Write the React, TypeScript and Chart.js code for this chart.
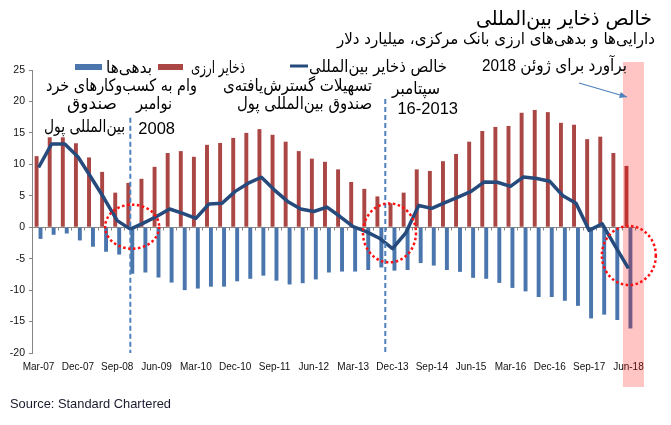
import React, { useEffect, useRef } from "react";
import { Chart, registerables } from "chart.js";
Chart.register(...registerables);

// ---- data ----
const quarters = [
  "Mar-07","Jun-07","Sep-07","Dec-07",
  "Mar-08","Jun-08","Sep-08","Dec-08",
  "Mar-09","Jun-09","Sep-09","Dec-09",
  "Mar-10","Jun-10","Sep-10","Dec-10",
  "Mar-11","Jun-11","Sep-11","Dec-11",
  "Mar-12","Jun-12","Sep-12","Dec-12",
  "Mar-13","Jun-13","Sep-13","Dec-13",
  "Mar-14","Jun-14","Sep-14","Dec-14",
  "Mar-15","Jun-15","Sep-15","Dec-15",
  "Mar-16","Jun-16","Sep-16","Dec-16",
  "Mar-17","Jun-17","Sep-17","Dec-17",
  "Mar-18","Jun-18",
];

const liabilities = [
  -1.85, -1.2, -1.0, -2.1, -3.1, -3.9, -4.35, -7.4, -7.2, -8.0,
  -8.8, -10.0, -9.75, -9.45, -9.45, -8.6, -8.2, -7.7, -8.5, -9.1,
  -8.9, -8.3, -7.2, -7.05, -7.05, -6.8, -6.4, -6.9, -6.8, -5.7,
  -6.1, -6.8, -7.1, -8.05, -8.2, -8.85, -9.65, -10.2, -11.1, -11.1,
  -11.7, -12.5, -14.5, -13.9, -14.75, -16.1,
];

const fxReserves = [
  11.3, 14.3, 14.3, 13.35, 11.1, 8.8, 5.5, 7.05, 7.7, 9.6,
  11.8, 12.1, 11.2, 13.1, 13.4, 14.2, 15.0, 15.6, 14.7, 13.6,
  12.1, 10.9, 10.4, 9.2, 7.2, 6.1, 4.9, 3.8, 5.5, 9.2,
  8.95, 10.5, 11.65, 13.6, 15.3, 15.95, 16.1, 18.2, 18.65, 18.3,
  16.6, 16.3, 14.0, 14.4, 11.8, 9.75,
];

const netReserves = [
  9.5, 13.25, 13.25, 11.2, 7.95, 4.6, 1.05, -0.3, 0.65, 1.7,
  2.9, 2.2, 1.4, 3.7, 3.8, 5.7, 7.0, 7.95, 5.9, 4.1,
  2.9, 2.5, 3.2, 1.7, 0.1, -0.7, -1.75, -3.4, -0.95, 3.45,
  3.0, 3.9, 4.8, 5.7, 7.2, 7.15, 6.5, 8.0, 7.75, 7.3,
  5.0, 3.8, -0.5, 0.55, -3.05, -6.55,
];

const yTicks = { min: -20, max: 25, step: 5 };

const seriesNames = {
  liabilities: "بدهی‌ها",
  fx: "ذخایر ارزی",
  net: "خالص ذخایر بین‌المللی",
};

const titleText = "خالص ذخایر بین‌المللی";
const subtitleText = "دارایی‌ها و بدهی‌های ارزی بانک مرکزی، میلیارد دلار";
const sourceText = "Source: Standard Chartered";

// event markers (category index positions)
const eventLines = [
  { at: 7, top: 17.4 },
  { at: 26.45, top: 20.4 },
];
const circles = [
  { at: 7.14, val: 0.08, rx: 27, ry: 22 },
  { at: 26.77, val: -0.9, rx: 26.5, ry: 29.5 },
  { at: 45.03, val: -4.5, rx: 27, ry: 29.5 },
];

const BLUE = "#4a76ad";
const RED = "#aa4643";
const NAVY = "#264a7c";
const AXIS = "#868686";
const PERSIAN = "'DejaVu Sans', 'Noto Sans', sans-serif";
const MIXED = "'Liberation Sans', 'DejaVu Sans', sans-serif";
const TICKFONT = "'Liberation Sans', Arial, sans-serif";

type Txt = { t: string; x: number; y: number; size: number; w?: number; font?: string; dir?: "rtl" | "ltr" };

const texts: Txt[] = [
  { t: titleText, x: 652, y: 25, size: 20, w: 176 },
  { t: subtitleText, x: 655, y: 44, size: 16, w: 318 },
  { t: "برآورد برای ژوئن 2018", x: 627, y: 71, size: 17, w: 145, font: MIXED },
  { t: "وام به کسب‌وکارهای خرد", x: 197, y: 91, size: 17, w: 151 },
  { t: "صندوق", x: 117, y: 109, size: 17, w: 50 },
  { t: "بین‌المللی پول", x: 125, y: 132, size: 17, w: 81 },
  { t: "نوامبر", x: 172, y: 109, size: 17, w: 36 },
  { t: "2008", x: 175, y: 133.5, size: 16.5, font: MIXED, dir: "ltr" },
  { t: "تسهیلات گسترش‌یافته‌ی", x: 372, y: 91, size: 17, w: 149 },
  { t: "صندوق بین‌المللی پول", x: 372, y: 109, size: 17, w: 135 },
  { t: "سپتامبر", x: 440, y: 94, size: 17, w: 48 },
  { t: "16-2013", x: 458, y: 114, size: 16.5, font: MIXED, dir: "ltr" },
  // legend texts
  { t: seriesNames.liabilities, x: 152, y: 73, size: 16.5, w: 46 },
  { t: seriesNames.fx, x: 245, y: 73, size: 16.5, w: 54 },
  { t: seriesNames.net, x: 447, y: 72, size: 16.5, w: 138 },
];

const overlayPlugin = {
  id: "overlay",
  beforeDatasetDraw(chart: any, args: any) {
    if (args.index !== 2) return;
    const { ctx } = chart;
    const xs = chart.scales.x;
    const ys = chart.scales.y;
    const cx = xs.getPixelForValue(45);
    ctx.save();
    ctx.fillStyle = "rgba(255,0,0,0.23)";
    const top = ys.getPixelForValue(25) - 8;
    const bot = ys.getPixelForValue(-20) + 34;
    ctx.fillRect(cx - 5.5, top, 21, bot - top);
    ctx.restore();
  },
  beforeDatasetsDraw(chart: any) {
    const { ctx, chartArea } = chart;
    const xs = chart.scales.x;
    const ys = chart.scales.y;
    const y0 = Math.round(ys.getPixelForValue(0)) + 0.5;
    ctx.save();
    ctx.strokeStyle = AXIS;
    ctx.lineWidth = 1;
    ctx.beginPath();
    ctx.moveTo(chartArea.left, y0);
    ctx.lineTo(chartArea.right, y0);
    for (let i = 0; i <= quarters.length; i++) {
      const px = Math.round(xs.getPixelForValue(i - 0.5)) + 0.5;
      ctx.moveTo(px, y0);
      ctx.lineTo(px, y0 + 3);
    }
    ctx.stroke();
    ctx.restore();
  },
  afterDatasetsDraw(chart: any) {
    const { ctx } = chart;
    const xs = chart.scales.x;
    const ys = chart.scales.y;
    ctx.save();
    // dashed event lines
    ctx.strokeStyle = "#4f81bd";
    ctx.lineWidth = 2;
    ctx.setLineDash([5, 3]);
    for (const e of eventLines) {
      const px = xs.getPixelForValue(e.at);
      ctx.beginPath();
      ctx.moveTo(px, ys.getPixelForValue(e.top));
      ctx.lineTo(px, ys.getPixelForValue(yTicks.min));
      ctx.stroke();
    }
    // dotted circles
    ctx.strokeStyle = "#ff1010";
    ctx.lineWidth = 2.5;
    ctx.setLineDash([2.5, 2.5]);
    for (const c of circles) {
      ctx.beginPath();
      ctx.ellipse(xs.getPixelForValue(c.at), ys.getPixelForValue(c.val), c.rx, c.ry, 0, 0, Math.PI * 2);
      ctx.stroke();
    }
    ctx.setLineDash([]);
    // arrow
    ctx.strokeStyle = "#4f81bd";
    ctx.fillStyle = "#4f81bd";
    ctx.lineWidth = 1.25;
    const ax0 = 579, ay0 = 83, ax1 = 627, ay1 = 97;
    ctx.beginPath();
    ctx.moveTo(ax0, ay0);
    ctx.lineTo(ax1, ay1);
    ctx.stroke();
    const ang = Math.atan2(ay1 - ay0, ax1 - ax0);
    ctx.beginPath();
    ctx.moveTo(ax1, ay1);
    ctx.lineTo(ax1 - 8 * Math.cos(ang - 0.4), ay1 - 8 * Math.sin(ang - 0.4));
    ctx.lineTo(ax1 - 8 * Math.cos(ang + 0.4), ay1 - 8 * Math.sin(ang + 0.4));
    ctx.closePath();
    ctx.fill();

    // legend markers
    ctx.fillStyle = BLUE;
    ctx.fillRect(75, 64, 27, 6);
    ctx.fillStyle = RED;
    ctx.fillRect(158, 64, 25, 6);
    ctx.strokeStyle = NAVY;
    ctx.lineWidth = 3;
    ctx.beginPath();
    ctx.moveTo(290, 66);
    ctx.lineTo(308, 66);
    ctx.stroke();

    // texts
    ctx.fillStyle = "#000";
    ctx.textAlign = "right";
    ctx.textBaseline = "alphabetic";
    for (const t of texts) {
      ctx.direction = t.dir || "rtl";
      ctx.font = `${t.size}px ${t.font || PERSIAN}`;
      if (t.w) ctx.fillText(t.t, t.x, t.y, t.w);
      else ctx.fillText(t.t, t.x, t.y);
    }
    ctx.direction = "ltr";
    ctx.textAlign = "left";
    ctx.fillStyle = "#1a1a2e";
    ctx.font = `13.5px 'Liberation Sans', Arial, sans-serif`;
    ctx.fillText(sourceText, 10, 408, 161);
    ctx.restore();
  },
};

export default function App() {
  const ref = useRef<HTMLCanvasElement | null>(null);
  useEffect(() => {
    if (!ref.current) return;
    const chart = new Chart(ref.current, {
      type: "bar",
      data: {
        labels: quarters,
        datasets: [
          {
            type: "bar",
            label: seriesNames.liabilities,
            data: liabilities,
            backgroundColor: BLUE,
            barPercentage: 1,
            categoryPercentage: 0.6,
            order: 2,
          },
          {
            type: "bar",
            label: seriesNames.fx,
            data: fxReserves,
            backgroundColor: RED,
            barPercentage: 1,
            categoryPercentage: 0.6,
            order: 1,
          },
          {
            type: "line",
            label: seriesNames.net,
            data: netReserves,
            borderColor: NAVY,
            borderWidth: 3.5,
            pointRadius: 0,
            tension: 0,
            borderJoinStyle: "round",
            order: 0,
          } as any,
        ],
      },
      options: {
        responsive: false,
        animation: false,
        devicePixelRatio: 1,
        layout: { padding: { top: 70, bottom: 42, right: 36, left: 0 } },
        plugins: {
          legend: { display: false },
          tooltip: { enabled: false },
          title: { display: false },
        },
        scales: {
          x: {
            offset: true,
            grid: { display: false, drawTicks: false },
            border: { display: false },
            ticks: {
              autoSkip: false,
              maxRotation: 0,
              minRotation: 0,
              padding: 8,
              color: "#111",
              font: { family: TICKFONT, size: 10 },
              callback: (_v: any, i: number) => (i % 3 === 0 ? quarters[i] : ""),
            },
            afterFit: (s: any) => {
              s.height = 30;
            },
          },
          y: {
            min: yTicks.min,
            max: yTicks.max,
            ticks: {
              stepSize: yTicks.step,
              padding: 4,
              color: "#111",
              font: { family: TICKFONT, size: 10.5 },
            },
            grid: { drawOnChartArea: false, drawTicks: true, tickLength: 3, color: AXIS },
            border: { display: true, color: AXIS, width: 1 },
            afterFit: (s: any) => {
              s.width = 32;
            },
          },
        },
      },
      plugins: [overlayPlugin],
    });
    return () => chart.destroy();
  }, []);
  return (
    <div style={{ position: "absolute", left: 0, top: 0, width: 671, height: 425, background: "#fff" }}>
      <canvas ref={ref} width={671} height={425} />
    </div>
  );
}
